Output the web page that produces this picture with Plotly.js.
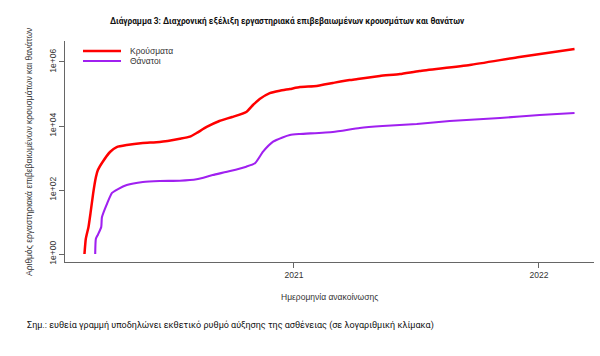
<!DOCTYPE html>
<html>
<head>
<meta charset="utf-8">
<script src="https://cdn.plot.ly/plotly-3.0.1.min.js"></script>
<style>html,body{margin:0;padding:0;background:#fff;}#chart{width:600px;height:356px;}</style>
</head>
<body>
<div id="chart"></div>
<script>
// ---- Data ----
const casesDates = ["2020-02-24","2020-02-26","2020-03-01","2020-03-04","2020-03-08","2020-03-12","2020-03-15","2020-03-22","2020-04-02","2020-04-12","2020-04-27","2020-05-21","2020-06-15","2020-07-15","2020-07-30","2020-08-09","2020-08-24","2020-09-12","2020-10-01","2020-10-22","2020-11-01","2020-11-11","2020-11-26","2020-12-11","2020-12-26","2021-01-10","2021-02-04","2021-02-28","2021-03-25","2021-04-06","2021-05-09","2021-06-08","2021-07-07","2021-09-20","2021-12-03","2022-02-23"];
const casesValues = [1,3,7,19,80,250,420,750,1540,2200,2550,2940,3160,4000,4630,6030,9330,14330,19100,27400,45300,69800,107000,126800,143300,165000,178000,221000,274000,294000,365000,422000,523000,806000,1433000,2548000];

const deathsDates = ["2020-03-11","2020-03-12","2020-03-15","2020-03-20","2020-03-21","2020-03-29","2020-04-05","2020-04-14","2020-04-27","2020-05-21","2020-06-15","2020-07-15","2020-08-09","2020-09-02","2020-09-28","2020-10-22","2020-11-04","2020-11-16","2020-12-01","2020-12-15","2020-12-26","2021-01-10","2021-02-28","2021-04-09","2021-05-13","2021-07-03","2021-08-21","2021-11-04","2022-01-02","2022-02-23"];
const deathsValues = [1,3,4,7,14,39,81,107,143,178,191,195,216,294,392,535,683,1574,3230,4400,5250,5623,6490,8660,10000,11550,14330,17800,22060,25460];

const seriesNames = ["Κρούσματα","Θάνατοι"];
const seriesColors = ["#ff0000","#a020f0"];

const yTickVals = [1,100,10000,1000000];
const yTickText = ["1e+00","1e+02","1e+04","1e+06"];
const xTickVals = ["2021-01-01","2022-01-01"];
const xTickText = ["2021","2022"];

const titleText = "Διάγραμμα 3: Διαχρονική εξέλιξη εργαστηριακά επιβεβαιωμένων κρουσμάτων και θανάτων";
const xTitle = "Ημερομηνία ανακοίνωσης";
const yTitle = "Αριθμός εργαστηριακά επιβεβαιωμένων κρουσμάτων και θανάτων";
const noteText = "Σημ.: ευθεία γραμμή υποδηλώνει εκθετικό ρυθμό αύξησης της ασθένειας (σε λογαριθμική κλίμακα)";

// ---- Plot ----
const chartFont = "Liberation Sans, Arial, sans-serif";
const capFont = "Roboto, Noto Sans, sans-serif";

const traces = [
  {x: casesDates, y: casesValues, type: "scatter", mode: "lines", name: seriesNames[0],
   line: {color: seriesColors[0], width: 2.5, shape: "spline", smoothing: 0.5}},
  {x: deathsDates, y: deathsValues, type: "scatter", mode: "lines", name: seriesNames[1],
   line: {color: seriesColors[1], width: 2.1, shape: "spline", smoothing: 0.5}}
];

const L = 65, R = 6, T = 41, B = 94, W = 600, H = 356;
const pw = W - L - R, ph = H - T - B;
function px2paperX(px){ return (px - L) / pw; }
function px2paperY(py){ return (H - B - py) / ph; }

const legendShapes = seriesColors.map((c, i) => ({
  type: "line", xref: "paper", yref: "paper",
  x0: px2paperX(83), x1: px2paperX(121),
  y0: px2paperY(51 + 10 * i), y1: px2paperY(51 + 10 * i),
  line: {color: c, width: i === 0 ? 2.5 : 2.1}
}));
const legendAnn = seriesNames.map((n, i) => ({
  xref: "paper", yref: "paper", x: px2paperX(128), y: px2paperY(51 + 10 * i),
  xanchor: "left", yanchor: "middle", text: n, showarrow: false,
  font: {family: chartFont, size: 8.5, color: "#333"}
}));

const layout = {
  width: W, height: H,
  margin: {l: L, r: R, t: T, b: B},
  paper_bgcolor: "#fff", plot_bgcolor: "#fff",
  showlegend: false,
  title: {text: "<b>" + titleText + "</b>", xref: "container", x: 287 / W, xanchor: "center",
          yref: "container", y: 1 - 21 / H, yanchor: "middle",
          font: {family: capFont, size: 8.3, color: "#111"}},
  xaxis: {
    type: "date", range: ["2020-01-26", "2022-03-24"],
    showgrid: false, zeroline: false, showline: true, linecolor: "#666", linewidth: 1,
    ticks: "outside", ticklen: 5, tickcolor: "#666", tickvals: xTickVals, ticktext: xTickText,
    tickfont: {family: chartFont, size: 8.5, color: "#333"}
  },
  yaxis: {
    type: "log", range: [-0.25, 6.656],
    showgrid: false, zeroline: false, showline: true, linecolor: "#666", linewidth: 1,
    ticks: "outside", ticklen: 5, tickcolor: "#666", tickvals: yTickVals, ticktext: yTickText,
    tickangle: -90, tickfont: {family: chartFont, size: 8.5, color: "#333"}
  },
  shapes: legendShapes,
  annotations: legendAnn.concat([
    {xref: "paper", yref: "paper", x: 0.5, y: px2paperY(297), xanchor: "center", yanchor: "middle",
     text: xTitle, showarrow: false, font: {family: chartFont, size: 8.5, color: "#333"}},
    {xref: "paper", yref: "paper", x: px2paperX(29), y: px2paperY(152), xanchor: "center", yanchor: "middle",
     text: yTitle, textangle: -90, showarrow: false, font: {family: chartFont, size: 8.5, color: "#333"}},
    {xref: "paper", yref: "paper", x: px2paperX(25), y: px2paperY(325), xanchor: "left", yanchor: "middle",
     text: noteText, showarrow: false, font: {family: capFont, size: 9.0, color: "#111"}}
  ])
};

Plotly.newPlot("chart", traces, layout, {staticPlot: true, displayModeBar: false});
</script>
</body>
</html>
